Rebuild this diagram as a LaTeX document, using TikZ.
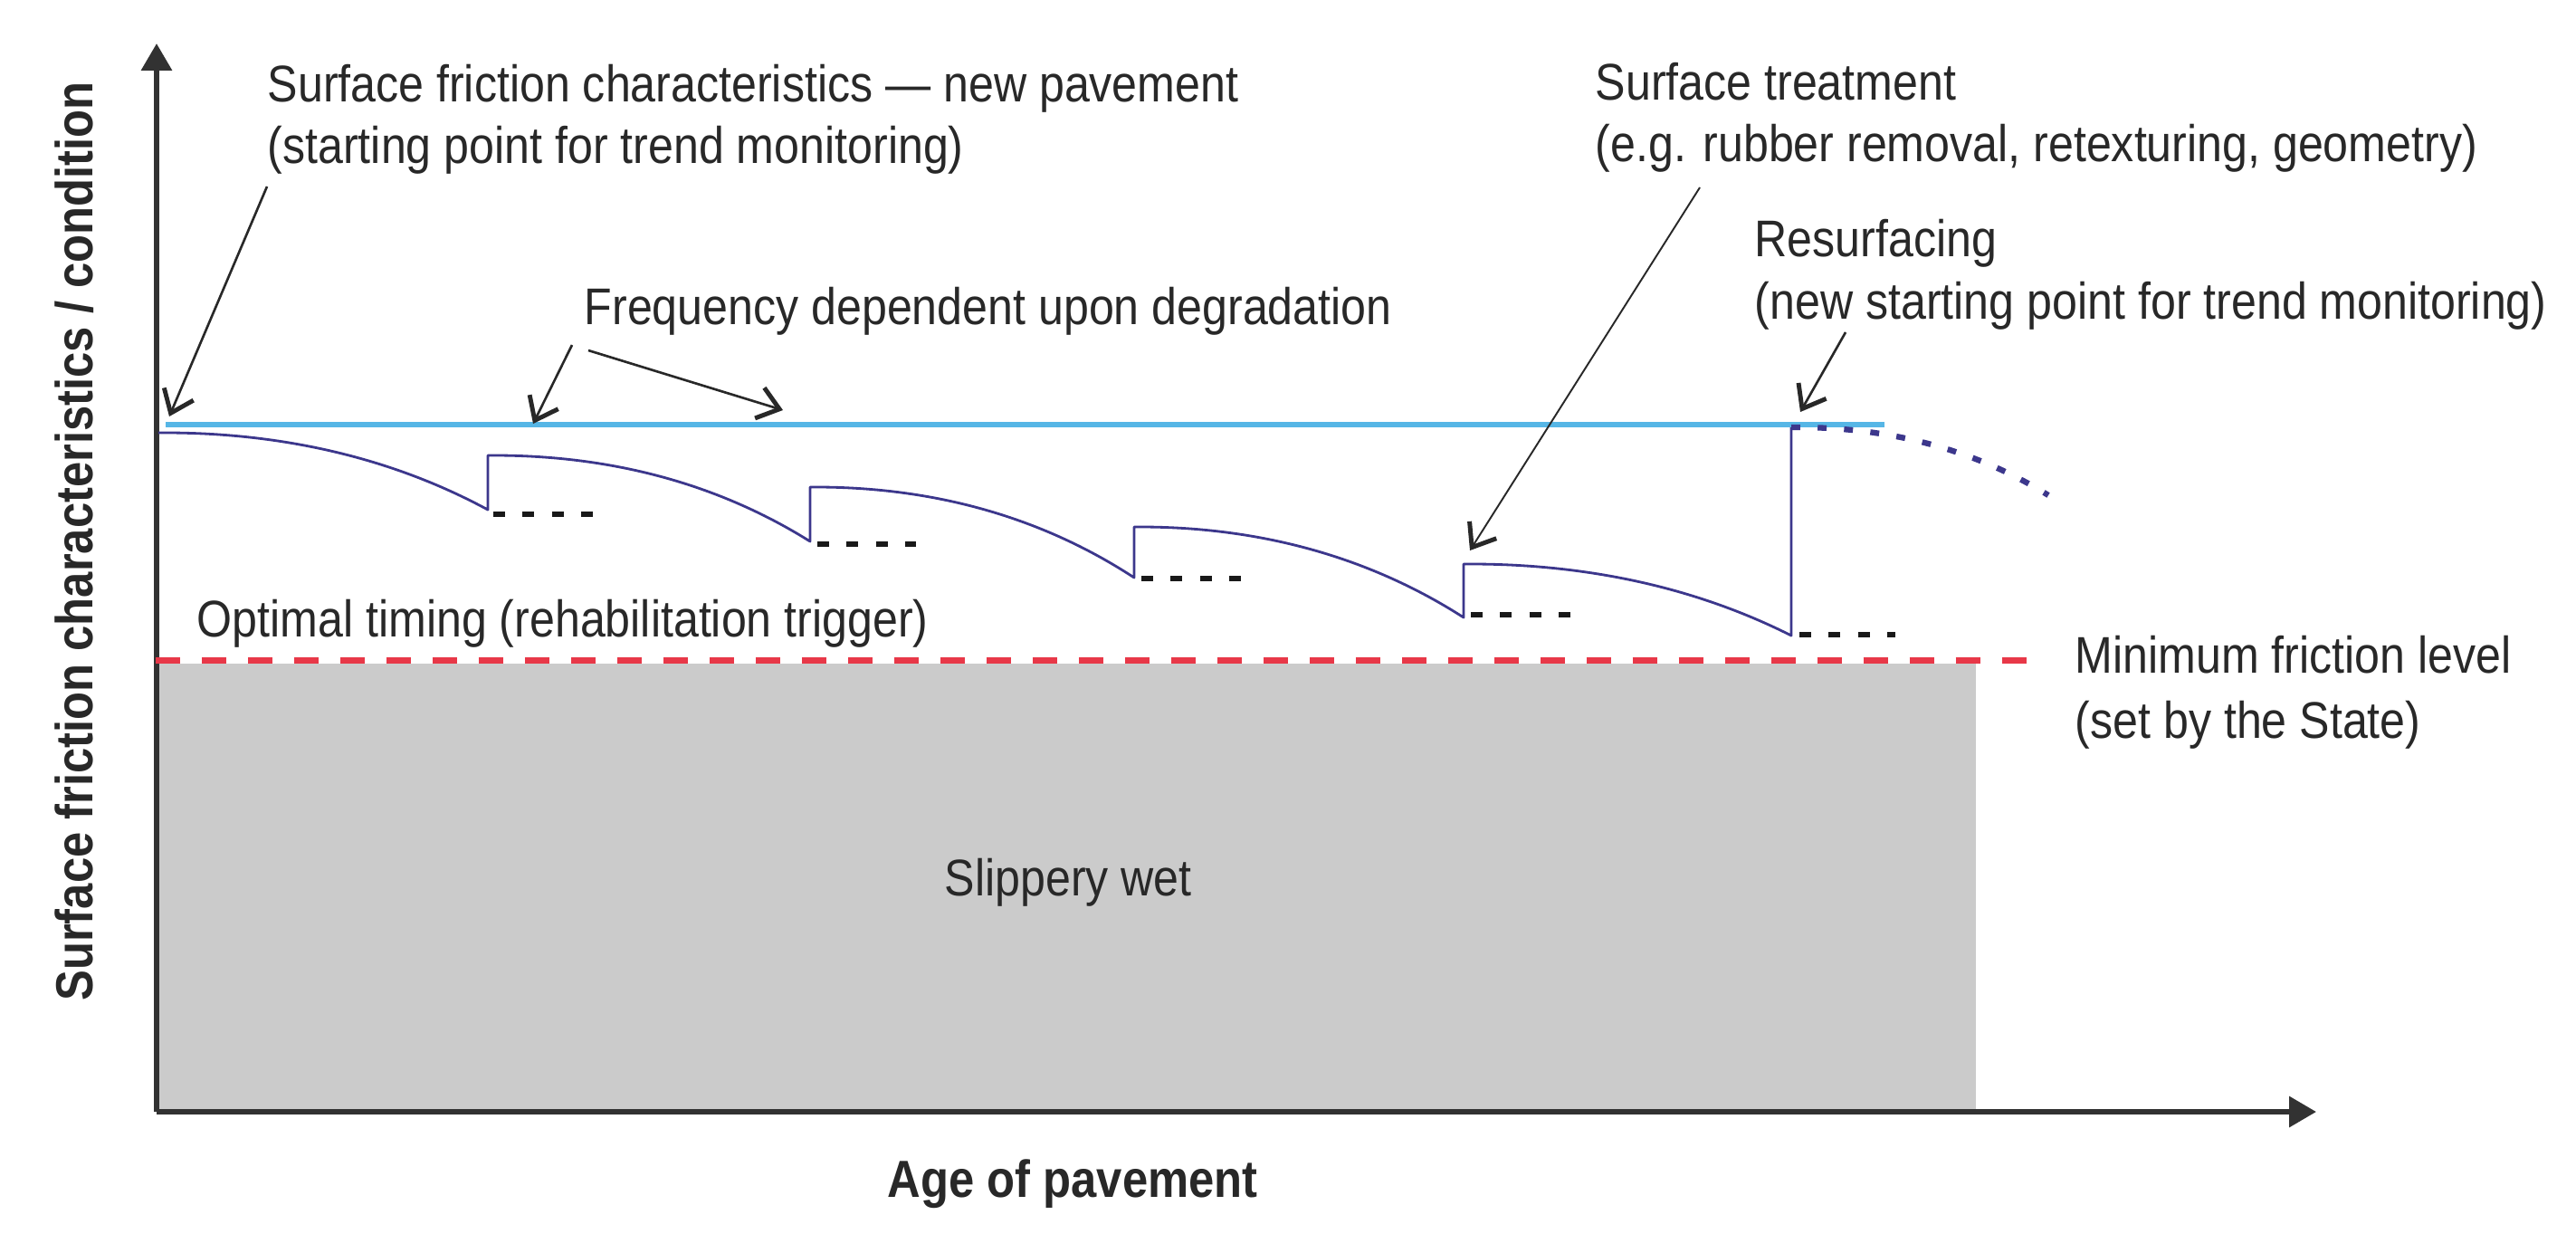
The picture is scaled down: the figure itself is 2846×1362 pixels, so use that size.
\documentclass[tikz,border=0pt]{standalone}
\usepackage{fontspec}
\setmainfont{Liberation Sans}[FakeStretch=0.88]
\usetikzlibrary{arrows.meta}
\definecolor{skyline}{RGB}{86,182,230}
\definecolor{curvecol}{RGB}{60,55,140}
\definecolor{redline}{RGB}{232,56,72}
\definecolor{grayfill}{RGB}{203,203,203}
\definecolor{axiscol}{RGB}{50,50,50}
\definecolor{textcol}{RGB}{40,40,40}
\begin{document}
\begin{tikzpicture}[x=0.01cm,y=-0.01cm,
  lbl/.style={anchor=base west,inner sep=0pt,text=textcol,font=\fontsize{16.2}{19.9}\selectfont},
  boldlbl/.style={inner sep=0pt,text=textcol,font=\fontsize{16.4}{19.9}\selectfont\bfseries},
  axisline/.style={draw=axiscol,line width=1.7pt,-{Triangle[length=8.5pt,width=9.4pt]}},
  callout/.style={draw=textcol,line width=0.75pt,-{Straight Barb[length=6.5pt,width=10pt,line width=1.4pt]}},
  curveline/.style={draw=curvecol,line width=0.8pt},
  blackdash/.style={draw=black!90,line width=1.8pt,dash pattern=on 3.7pt off 5.5pt},
  navydots/.style={draw=curvecol,line width=1.8pt,dash pattern=on 2.8pt off 5.5pt},
  reddash/.style={draw=redline,line width=2pt,dash pattern=on 7.7pt off 6.8pt},
  blueline/.style={draw=skyline,line width=1.5pt}]
\useasboundingbox (0,0) rectangle (2846,1362);
% slippery region
\fill[grayfill] (172,733) rectangle (2183,1228);
% axes
\coordinate (O) at (173,1228);
\coordinate (Ytop) at (173,48);
\coordinate (Xend) at (2559,1228);
\draw[axisline] (O) -- (Ytop);
\draw[axisline] (O) -- (Xend);
% reference lines
\draw[reddash] (172,729) -- (2259,729);
\draw[blueline] (183,469) -- (2082,469);
% friction curve
\draw[curveline,line join=round] (175,478) .. controls (306,477) and (430,504) .. (539,563)
  -- (539,503) .. controls (667,502) and (788,531) .. (895,598)
  -- (895,538) .. controls (1024,537) and (1146,568) .. (1253,638)
  -- (1253,582) .. controls (1384,581) and (1508,612) .. (1617,682)
  -- (1617,623) .. controls (1747,622) and (1870,647) .. (1979,702)
  -- (1979,472);
\draw[navydots] (1979,472) .. controls (2081,471) and (2178,494) .. (2263,547);
% short black dashes
\draw[blackdash] (545,568) -- (657,568);
\draw[blackdash] (903,601) -- (1012,601);
\draw[blackdash] (1261,639) -- (1372,639);
\draw[blackdash] (1625,679) -- (1736,679);
\draw[blackdash] (1988,701) -- (2094,701);
% labels
\node[lbl] (t1a) at (295,112) {Surface friction characteristics — new pavement};
\node[lbl] (t1b) at (295,180) {(starting point for trend monitoring)};
\node[lbl] (t2) at (645,358) {Frequency dependent upon degradation};
\node[lbl] (t3a) at (1762,110) {Surface treatment};
\node[lbl] (t3b) at (1762,178) {(e.g. rubber removal, retexturing, geometry)};
\node[lbl] (t4a) at (1938,283) {Resurfacing};
\node[lbl] (t4b) at (1938,352) {(new starting point for trend monitoring)};
\node[lbl] (t5) at (217,703) {Optimal timing (rehabilitation trigger)};
\node[lbl] (t6a) at (2292,743) {Minimum friction level};
\node[lbl] (t6b) at (2292,815) {(set by the State)};
\node[lbl] (t7) at (1043,989) {Slippery wet};
\node[boldlbl,anchor=base west] (xl) at (980,1322) {Age of pavement};
\node[boldlbl,rotate=90,anchor=base] (yl) at (102,598) {Surface friction characteristics / condition};
% callout arrows
\coordinate (a1s) at (295,206);
\coordinate (a1e) at (187,460);
\coordinate (a2s) at (632,381);
\coordinate (a2e) at (589,468);
\coordinate (a3s) at (650,387);
\coordinate (a3e) at (865,453);
\coordinate (a4s) at (1878,207);
\coordinate (a4e) at (1624,608);
\coordinate (a5s) at (2039,367);
\coordinate (a5e) at (1989,455);
\draw[callout] (a1s) -- (a1e);
\draw[callout] (a2s) -- (a2e);
\draw[callout] (a3s) -- (a3e);
\draw[callout,line width=0.55pt] (a4s) -- (a4e);
\draw[callout] (a5s) -- (a5e);
\end{tikzpicture}
\end{document}
